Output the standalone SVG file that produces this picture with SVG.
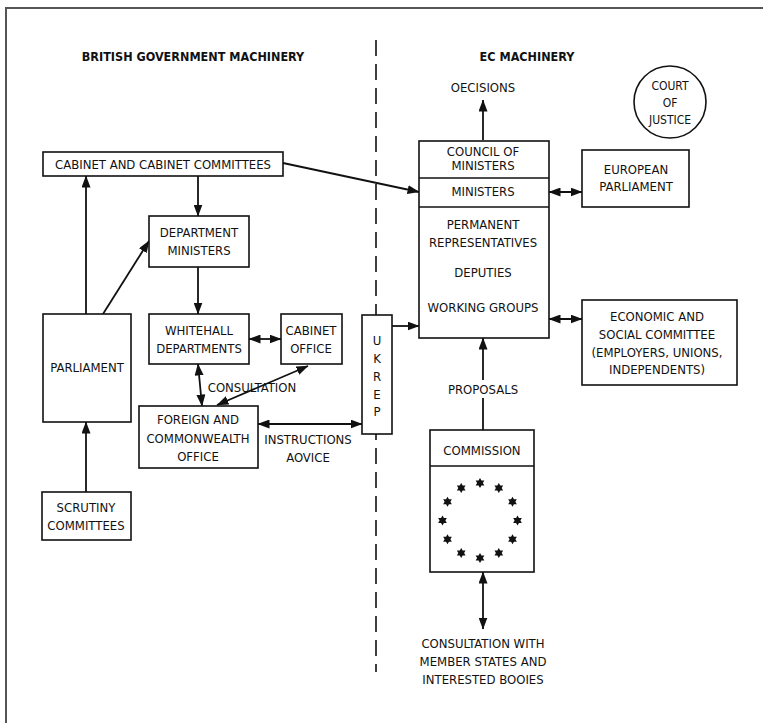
<svg xmlns="http://www.w3.org/2000/svg" width="763" height="723" viewBox="0 0 763 723">
<style>
text{font-family:"Liberation Sans Narrow","DejaVu Sans Condensed","Liberation Sans",sans-serif;font-size:13px;fill:#111;text-anchor:middle}
.h{font-weight:bold;font-size:12.5px}
.s{font-size:12px}
.b{fill:#fff;stroke:#111;stroke-width:1.6}
.ln{fill:none;stroke:#111;stroke-width:1.6}
.c path,.c line,.c polyline{fill:none;stroke:#111;stroke-width:1.8}
.one{marker-end:url(#ah)}
.two{marker-end:url(#ah);marker-start:url(#ah)}
.frame{stroke:#555;stroke-width:2;fill:none}
</style>
<defs>
<marker id="ah" viewBox="0 0 12 9" refX="11.5" refY="4.5" markerWidth="12" markerHeight="9" markerUnits="userSpaceOnUse" orient="auto-start-reverse">
<path d="M0,0 L12,4.5 L0,9 z" fill="#111"/>
</marker>
<polygon id="star" points="0,-5 1.44,-2.5 4.33,-2.5 2.89,0 4.33,2.5 1.44,2.5 0,5 -1.44,2.5 -4.33,2.5 -2.89,0 -4.33,-2.5 -1.44,-2.5" fill="#111"/>
</defs>
<rect width="763" height="723" fill="#fff"/>
<path class="frame" d="M6,723 V8 H763"/>
<line x1="376" y1="40" x2="376" y2="672" stroke="#111" stroke-width="1.6" stroke-dasharray="16 8"/>
<text class="h" x="193" y="61">BRITISH GOVERNMENT MACHINERY</text>
<text class="h" x="527" y="61">EC MACHINERY</text>

<g class="c" id="connectors">
<line class="one" x1="198" y1="176" x2="198" y2="216"/>
<line class="one" x1="198" y1="267" x2="198" y2="314"/>
<line class="one" x1="86" y1="314" x2="86" y2="176"/>
<line class="one" x1="103" y1="314" x2="149" y2="241"/>
<line class="two" x1="249" y1="339" x2="281" y2="339"/>
<line class="two" x1="198" y1="364" x2="202" y2="406"/>
<line class="two" x1="217" y1="405" x2="308" y2="366"/>
<line class="two" x1="258" y1="424" x2="362" y2="424"/>
<line class="one" x1="86" y1="492" x2="86" y2="422"/>
<line class="one" x1="283" y1="163" x2="419" y2="192"/>
<line class="one" x1="392" y1="326" x2="419" y2="326"/>
<line class="one" x1="483" y1="140" x2="483" y2="100"/>
<line class="two" x1="549" y1="192" x2="582" y2="192"/>
<line class="two" x1="549" y1="319" x2="582" y2="319"/>
<line x1="483" y1="430" x2="483" y2="398"/>
<line class="one" x1="483" y1="380" x2="483" y2="338"/>
<line class="two" x1="483" y1="572" x2="483" y2="629"/>
</g>

<g id="cabinet"><rect class="b" x="43" y="152" width="240" height="24"/><text x="163" y="169">CABINET AND CABINET COMMITTEES</text></g>
<g id="dept-ministers"><rect class="b" x="149" y="216" width="100" height="51"/><text x="199" y="237">DEPARTMENT</text><text x="199" y="255">MINISTERS</text></g>
<g id="parliament"><rect class="b" x="43" y="314" width="88" height="108"/><text x="87" y="372">PARLIAMENT</text></g>
<g id="whitehall"><rect class="b" x="149" y="314" width="100" height="50"/><text x="199" y="335">WHITEHALL</text><text x="199" y="353">DEPARTMENTS</text></g>
<g id="cabinet-office"><rect class="b" x="281" y="314" width="61" height="50"/><text x="311" y="335">CABINET</text><text x="311" y="353">OFFICE</text></g>
<g id="fco"><rect class="b" x="139" y="406" width="119" height="62"/><text x="198" y="424">FOREIGN AND</text><text x="198" y="443">COMMONWEALTH</text><text x="198" y="461">OFFICE</text></g>
<g id="scrutiny"><rect class="b" x="42" y="492" width="89" height="48"/><text x="86" y="512">SCRUTINY</text><text x="86" y="530">COMMITTEES</text></g>
<g id="ukrep"><rect class="b" x="362" y="315" width="30" height="119"/>
<text x="377" y="345">U</text><text x="377" y="363">K</text><text x="377" y="381">R</text><text x="377" y="399">E</text><text x="377" y="416">P</text></g>
<g id="labels-left"><text x="252" y="392">CONSULTATION</text><text x="308" y="444">INSTRUCTIONS</text><text x="308" y="462">AOVICE</text></g>

<g id="council"><rect class="b" x="419" y="141" width="130" height="197"/>
<line class="ln" x1="419" y1="178" x2="549" y2="178"/><line class="ln" x1="419" y1="207" x2="549" y2="207"/>
<text x="483" y="156">COUNCIL OF</text><text x="483" y="170">MINISTERS</text>
<text x="483" y="196">MINISTERS</text>
<text x="483" y="229">PERMANENT</text><text x="483" y="247">REPRESENTATIVES</text>
<text x="483" y="277">DEPUTIES</text>
<text x="483" y="312">WORKING GROUPS</text></g>
<g id="decisions"><text x="483" y="92">OECISIONS</text></g>
<g id="court"><circle cx="670" cy="102" r="36" fill="#fff" stroke="#111" stroke-width="1.6"/><text class="s" x="670" y="90">COURT</text><text class="s" x="670" y="107">OF</text><text class="s" x="670" y="124">JUSTICE</text></g>
<g id="euro-parliament"><rect class="b" x="582" y="150" width="107" height="57"/><text x="636" y="174">EUROPEAN</text><text x="636" y="191">PARLIAMENT</text></g>
<g id="ecosoc"><rect class="b" x="582" y="300" width="155" height="85"/><text x="657" y="321">ECONOMIC AND</text><text x="657" y="339">SOCIAL COMMITTEE</text><text x="657" y="357">(EMPLOYERS, UNIONS,</text><text x="657" y="374">INDEPENDENTS)</text></g>
<g id="proposals"><text x="483" y="394">PROPOSALS</text></g>
<g id="commission"><rect class="b" x="430" y="430" width="104" height="142"/><line class="ln" x1="430" y1="466" x2="534" y2="466"/><text x="482" y="455">COMMISSION</text>
<use href="#star" x="480" y="483"/><use href="#star" x="498.8" y="488"/><use href="#star" x="512.5" y="501.8"/><use href="#star" x="517.5" y="520.5"/><use href="#star" x="512.5" y="539.2"/><use href="#star" x="498.8" y="553"/><use href="#star" x="480" y="558"/><use href="#star" x="461.2" y="553"/><use href="#star" x="447.5" y="539.2"/><use href="#star" x="442.5" y="520.5"/><use href="#star" x="447.5" y="501.8"/><use href="#star" x="461.2" y="488"/></g>
<g id="consultation-ms"><text x="483" y="648">CONSULTATION WITH</text><text x="483" y="666">MEMBER STATES AND</text><text x="483" y="684">INTERESTED BOOIES</text></g>
</svg>
